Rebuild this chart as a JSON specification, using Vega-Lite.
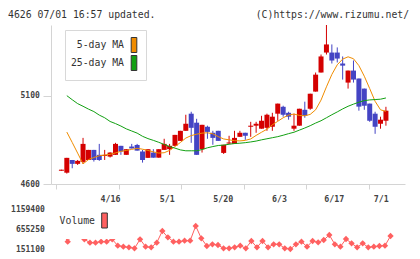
{
  "$schema": "https://vega.github.io/schema/vega-lite/v6.json",
  "autosize": "none",
  "width": 354,
  "height": 224,
  "padding": {"left": 51, "top": 25, "right": 15, "bottom": 10},
  "background": "white",
  "config": {
    "view": {"stroke": null},
    "font": "DejaVu Sans Mono",
    "axis": {
      "labelFont": "DejaVu Sans Mono",
      "labelFontWeight": "bold",
      "labelColor": "#444444",
      "domainColor": "#d4d4d4",
      "tickColor": "#d4d4d4",
      "grid": false,
      "labelFlush": false,
      "labelOverlap": false
    },
    "legend": {
      "labelFont": "DejaVu Sans Mono",
      "labelFontSize": 9.8,
      "labelColor": "#333333",
      "labelBaseline": "middle",
      "symbolOpacity": 1
    }
  },
  "title": {
    "text": "4626 07/01 16:57 updated.\u00a0\u00a0\u00a0\u00a0\u00a0\u00a0\u00a0\u00a0\u00a0\u00a0\u00a0\u00a0\u00a0\u00a0\u00a0\u00a0\u00a0(C)https://www.rizumu.net/",
    "anchor": "start",
    "frame": "group",
    "dx": -43,
    "dy": 12,
    "offset": 8.3,
    "baseline": "alphabetic",
    "font": "DejaVu Sans Mono",
    "fontSize": 9.8,
    "fontWeight": "normal",
    "color": "#333333"
  },
  "datasets": {
    "days": [
      {"i": 1, "open": 4675, "high": 4681, "low": 4675, "close": 4681, "vol": 850000},
      {"i": 2, "open": 4664, "high": 4748, "low": 4659, "close": 4748, "vol": 580000, "5-day MA": 4894, "25-day MA": 5100},
      {"i": 3, "open": 4736, "high": 4736, "low": 4689, "close": 4714, "vol": 335900, "5-day MA": 4835, "25-day MA": 5077},
      {"i": 4, "open": 4714, "high": 4736, "low": 4708, "close": 4731, "vol": 580000, "5-day MA": 4775, "25-day MA": 5055},
      {"i": 5, "open": 4725, "high": 4861, "low": 4714, "close": 4827, "vol": 1159400, "5-day MA": 4714, "25-day MA": 5040},
      {"i": 6, "open": 4736, "high": 4793, "low": 4736, "close": 4793, "vol": 394800, "5-day MA": 4738, "25-day MA": 5024},
      {"i": 7, "open": 4793, "high": 4793, "low": 4727, "close": 4736, "vol": 310700, "5-day MA": 4750, "25-day MA": 5010},
      {"i": 8, "open": 4765, "high": 4827, "low": 4731, "close": 4736, "vol": 310700, "5-day MA": 4760, "25-day MA": 4990},
      {"i": 9, "open": 4759, "high": 4793, "low": 4736, "close": 4765, "vol": 335900, "5-day MA": 4764, "25-day MA": 4975},
      {"i": 10, "open": 4755, "high": 4780, "low": 4750, "close": 4778, "vol": 335900, "5-day MA": 4768, "25-day MA": 4954},
      {"i": 11, "open": 4765, "high": 4833, "low": 4765, "close": 4827, "vol": 394800, "5-day MA": 4776, "25-day MA": 4942},
      {"i": 12, "open": 4816, "high": 4816, "low": 4765, "close": 4784, "vol": 235100, "5-day MA": 4785, "25-day MA": 4928},
      {"i": 13, "open": 4765, "high": 4797, "low": 4765, "close": 4797, "vol": 209900, "5-day MA": 4790, "25-day MA": 4912},
      {"i": 14, "open": 4812, "high": 4827, "low": 4801, "close": 4801, "vol": 193100, "5-day MA": 4796, "25-day MA": 4900},
      {"i": 15, "open": 4821, "high": 4827, "low": 4789, "close": 4789, "vol": 167900, "5-day MA": 4802, "25-day MA": 4888},
      {"i": 16, "open": 4784, "high": 4793, "low": 4721, "close": 4736, "vol": 394800, "5-day MA": 4797, "25-day MA": 4870},
      {"i": 17, "open": 4748, "high": 4797, "low": 4748, "close": 4797, "vol": 209900, "5-day MA": 4790, "25-day MA": 4857},
      {"i": 18, "open": 4778, "high": 4797, "low": 4749, "close": 4749, "vol": 193100, "5-day MA": 4782, "25-day MA": 4847},
      {"i": 19, "open": 4749, "high": 4797, "low": 4749, "close": 4797, "vol": 310700, "5-day MA": 4775, "25-day MA": 4836},
      {"i": 20, "open": 4793, "high": 4856, "low": 4793, "close": 4827, "vol": 604800, "5-day MA": 4777, "25-day MA": 4824},
      {"i": 21, "open": 4797, "high": 4827, "low": 4765, "close": 4816, "vol": 445200, "5-day MA": 4790, "25-day MA": 4812},
      {"i": 22, "open": 4816, "high": 4878, "low": 4816, "close": 4878, "vol": 335900, "5-day MA": 4812, "25-day MA": 4803},
      {"i": 23, "open": 4844, "high": 4901, "low": 4844, "close": 4901, "vol": 335900, "5-day MA": 4835, "25-day MA": 4793},
      {"i": 24, "open": 4901, "high": 4992, "low": 4901, "close": 4941, "vol": 361100, "5-day MA": 4860, "25-day MA": 4788},
      {"i": 25, "open": 4998, "high": 5009, "low": 4833, "close": 4918, "vol": 361100, "5-day MA": 4874, "25-day MA": 4788},
      {"i": 26, "open": 4947, "high": 4969, "low": 4765, "close": 4765, "vol": 730900, "5-day MA": 4882, "25-day MA": 4788},
      {"i": 27, "open": 4797, "high": 4935, "low": 4778, "close": 4935, "vol": 420000, "5-day MA": 4888, "25-day MA": 4795},
      {"i": 28, "open": 4924, "high": 4930, "low": 4856, "close": 4895, "vol": 226700, "5-day MA": 4890, "25-day MA": 4805},
      {"i": 29, "open": 4890, "high": 4901, "low": 4822, "close": 4861, "vol": 268700, "5-day MA": 4884, "25-day MA": 4812},
      {"i": 30, "open": 4901, "high": 4901, "low": 4844, "close": 4844, "vol": 251900, "5-day MA": 4868, "25-day MA": 4818},
      {"i": 31, "open": 4776, "high": 4822, "low": 4770, "close": 4822, "vol": 167900, "5-day MA": 4855, "25-day MA": 4820},
      {"i": 32, "open": 4829, "high": 4873, "low": 4827, "close": 4835, "vol": 167900, "5-day MA": 4850, "25-day MA": 4825},
      {"i": 33, "open": 4827, "high": 4901, "low": 4827, "close": 4861, "vol": 193100, "5-day MA": 4845, "25-day MA": 4829},
      {"i": 34, "open": 4867, "high": 4901, "low": 4867, "close": 4890, "vol": 235100, "5-day MA": 4844, "25-day MA": 4831},
      {"i": 35, "open": 4890, "high": 4890, "low": 4850, "close": 4873, "vol": 167900, "5-day MA": 4847, "25-day MA": 4834},
      {"i": 36, "open": 4924, "high": 4952, "low": 4867, "close": 4930, "vol": 352800, "5-day MA": 4855, "25-day MA": 4838},
      {"i": 37, "open": 4930, "high": 4952, "low": 4890, "close": 4941, "vol": 193100, "5-day MA": 4875, "25-day MA": 4843},
      {"i": 38, "open": 4913, "high": 4986, "low": 4913, "close": 4958, "vol": 352800, "5-day MA": 4893, "25-day MA": 4850},
      {"i": 39, "open": 4918, "high": 4998, "low": 4901, "close": 4992, "vol": 193100, "5-day MA": 4910, "25-day MA": 4856},
      {"i": 40, "open": 4924, "high": 5003, "low": 4901, "close": 4981, "vol": 268700, "5-day MA": 4935, "25-day MA": 4862},
      {"i": 41, "open": 4998, "high": 5055, "low": 4958, "close": 5055, "vol": 268700, "5-day MA": 4955, "25-day MA": 4868},
      {"i": 42, "open": 5037, "high": 5043, "low": 4981, "close": 4992, "vol": 167900, "5-day MA": 4975, "25-day MA": 4876},
      {"i": 43, "open": 5003, "high": 5009, "low": 4964, "close": 4981, "vol": 151100, "5-day MA": 4990, "25-day MA": 4885},
      {"i": 44, "open": 4913, "high": 4998, "low": 4901, "close": 4930, "vol": 268700, "5-day MA": 4996, "25-day MA": 4893},
      {"i": 45, "open": 4930, "high": 5026, "low": 4930, "close": 5026, "vol": 335900, "5-day MA": 4988, "25-day MA": 4905},
      {"i": 46, "open": 5020, "high": 5066, "low": 4975, "close": 4986, "vol": 209900, "5-day MA": 4986, "25-day MA": 4917},
      {"i": 47, "open": 5026, "high": 5111, "low": 5020, "close": 5111, "vol": 352800, "5-day MA": 4994, "25-day MA": 4930},
      {"i": 48, "open": 5123, "high": 5231, "low": 5123, "close": 5219, "vol": 319100, "5-day MA": 5020, "25-day MA": 4945},
      {"i": 49, "open": 5231, "high": 5333, "low": 5231, "close": 5322, "vol": 378000, "5-day MA": 5075, "25-day MA": 4958},
      {"i": 50, "open": 5344, "high": 5500, "low": 5333, "close": 5390, "vol": 504000, "5-day MA": 5150, "25-day MA": 4975},
      {"i": 51, "open": 5344, "high": 5390, "low": 5282, "close": 5299, "vol": 268700, "5-day MA": 5220, "25-day MA": 4992},
      {"i": 52, "open": 5344, "high": 5373, "low": 5288, "close": 5310, "vol": 209900, "5-day MA": 5275, "25-day MA": 5008},
      {"i": 53, "open": 5282, "high": 5322, "low": 5191, "close": 5270, "vol": 403200, "5-day MA": 5307, "25-day MA": 5025},
      {"i": 54, "open": 5174, "high": 5242, "low": 5140, "close": 5242, "vol": 294000, "5-day MA": 5320, "25-day MA": 5040},
      {"i": 55, "open": 5242, "high": 5299, "low": 5174, "close": 5191, "vol": 193100, "5-day MA": 5309, "25-day MA": 5052},
      {"i": 56, "open": 5197, "high": 5197, "low": 5015, "close": 5038, "vol": 294000, "5-day MA": 5270, "25-day MA": 5063},
      {"i": 57, "open": 5140, "high": 5140, "low": 5020, "close": 5043, "vol": 193100, "5-day MA": 5210, "25-day MA": 5072},
      {"i": 58, "open": 5055, "high": 5055, "low": 4952, "close": 4958, "vol": 209900, "5-day MA": 5140, "25-day MA": 5076},
      {"i": 59, "open": 4998, "high": 5009, "low": 4884, "close": 4924, "vol": 226700, "5-day MA": 5068, "25-day MA": 5078},
      {"i": 60, "open": 4941, "high": 4981, "low": 4913, "close": 4964, "vol": 235100, "5-day MA": 5020, "25-day MA": 5080},
      {"i": 61, "open": 4958, "high": 5037, "low": 4930, "close": 5015, "vol": 478800, "5-day MA": 5011, "25-day MA": 5087}
    ]
  },
  "data": {"name": "days"},
  "layer": [
    {
      "layer": [
        {
          "mark": {"type": "rule", "strokeWidth": 1},
          "encoding": {
            "x": {
              "field": "i",
              "type": "quantitative",
              "scale": {"domain": [0, 63.6], "nice": false, "zero": false},
              "axis": {
                "orient": "bottom",
                "offset": -65,
                "title": null,
                "labels": false,
                "values": [0, 5.7818, 11.5636, 17.3455, 23.1273, 28.9091, 34.6909, 40.4727, 46.2545, 52.0364, 57.8182, 63.6],
                "tickSize": 5
              }
            },
            "y": {
              "field": "low",
              "type": "quantitative",
              "scale": {"domain": [4600, 5500], "range": [159, 0], "nice": false, "zero": false},
              "axis": {
                "orient": "left",
                "title": null,
                "values": [4600, 5100],
                "format": "d",
                "tickSize": 8,
                "labelPadding": 3.7,
                "labelFontSize": 8
              }
            },
            "y2": {"field": "high"},
            "color": {"condition": {"test": "datum.close >= datum.open", "value": "#d40000"}, "value": "#4444c4"}
          }
        },
        {
          "mark": {"type": "bar", "width": 5},
          "encoding": {
            "x": {"field": "i", "type": "quantitative"},
            "y": {"field": "open", "type": "quantitative"},
            "y2": {"field": "close"},
            "color": {"condition": {"test": "datum.close >= datum.open", "value": "#d40000"}, "value": "#4444c4"}
          }
        },
        {
          "mark": {"type": "line", "strokeWidth": 1, "color": "#f08c00"},
          "encoding": {
            "x": {"field": "i", "type": "quantitative"},
            "y": {"field": "5-day MA", "type": "quantitative"}
          }
        },
        {
          "mark": {"type": "line", "strokeWidth": 1, "color": "#12a012"},
          "encoding": {
            "x": {"field": "i", "type": "quantitative"},
            "y": {"field": "25-day MA", "type": "quantitative"}
          }
        },
        {
          "transform": [
            {"fold": ["5-day MA", "25-day MA"], "as": ["series", "ma"]},
            {"filter": "false"}
          ],
          "mark": {"type": "point", "shape": "M-0.375,-1H0.375V1H-0.375Z", "filled": true, "size": 225, "opacity": 1, "stroke": "#333333", "strokeWidth": 1},
          "encoding": {
            "x": {"field": "i", "type": "quantitative"},
            "y": {"field": "ma", "type": "quantitative"},
            "fill": {
              "field": "series",
              "type": "nominal",
              "scale": {"domain": ["5-day MA", "25-day MA"], "range": ["#f08c00", "#12a012"]},
              "legend": {
                "title": null,
                "orient": "none",
                "legendX": 14,
                "legendY": 5,
                "padding": 7,
                "fillColor": "white",
                "strokeColor": "#d8d8d8",
                "labelAlign": "right",
                "labelOffset": -18,
                "symbolOffset": 54,
                "symbolType": "M-0.375,-1H0.375V1H-0.375Z",
                "symbolSize": 225,
                "symbolStrokeColor": "#333333",
                "symbolStrokeWidth": 1,
                "rowPadding": -4
              }
            }
          }
        }
      ]
    },
    {
      "layer": [
        {
          "mark": {"type": "line", "strokeWidth": 1, "color": "#ff6060", "point": {"shape": "diamond", "filled": true, "size": 40, "color": "#ff6060"}},
          "encoding": {
            "x": {
              "field": "i",
              "type": "quantitative",
              "scale": {"domain": [0, 63.6], "nice": false, "zero": false},
              "axis": {
                "orient": "bottom",
                "offset": -65,
                "title": null,
                "values": [10.6, 20.79, 30.85, 40.96, 50.79, 59.23],
                "labelExpr": "datum.value < 15 ? '4/16' : datum.value < 25 ? '5/1' : datum.value < 35 ? '5/20' : datum.value < 45 ? '6/3' : datum.value < 55 ? '6/17' : '7/1'",
                "ticks": false,
                "tickSize": 0,
                "domain": false,
                "labelPadding": 17.7,
                "labelBaseline": "alphabetic",
                "labelFontSize": 8.3
              }
            },
            "y": {
              "field": "vol",
              "type": "quantitative",
              "scale": {"domain": [151100, 1159400], "range": [224, 184], "nice": false, "zero": false},
              "axis": {
                "orient": "left",
                "title": null,
                "values": [151100, 655250, 1159400],
                "format": "d",
                "ticks": false,
                "tickSize": 0,
                "domain": false,
                "labelPadding": 6.7,
                "labelFontSize": 8,
                "labelBaseline": "middle"
              }
            }
          }
        },
        {
          "transform": [{"filter": "false"}],
          "mark": {"type": "point", "shape": "M-0.375,-1H0.375V1H-0.375Z", "filled": true, "size": 225, "opacity": 1, "stroke": "#333333", "strokeWidth": 1},
          "encoding": {
            "x": {"field": "i", "type": "quantitative"},
            "y": {"field": "vol", "type": "quantitative"},
            "fill": {
              "datum": "Volume",
              "type": "nominal",
              "scale": {"domain": ["Volume"], "range": ["#ff6060"]},
              "legend": {
                "title": null,
                "orient": "none",
                "legendX": -1,
                "legendY": 179,
                "padding": 8.5,
                "fillColor": "white",
                "labelAlign": "right",
                "labelOffset": -17.5,
                "symbolOffset": 38,
                "symbolType": "M-0.375,-1H0.375V1H-0.375Z",
                "symbolSize": 225,
                "symbolStrokeColor": "#333333",
                "symbolStrokeWidth": 1
              }
            }
          }
        }
      ]
    }
  ],
  "resolve": {
    "scale": {"x": "independent", "y": "independent", "fill": "independent"},
    "axis": {"x": "independent", "y": "independent"},
    "legend": {"fill": "independent"}
  }
}
